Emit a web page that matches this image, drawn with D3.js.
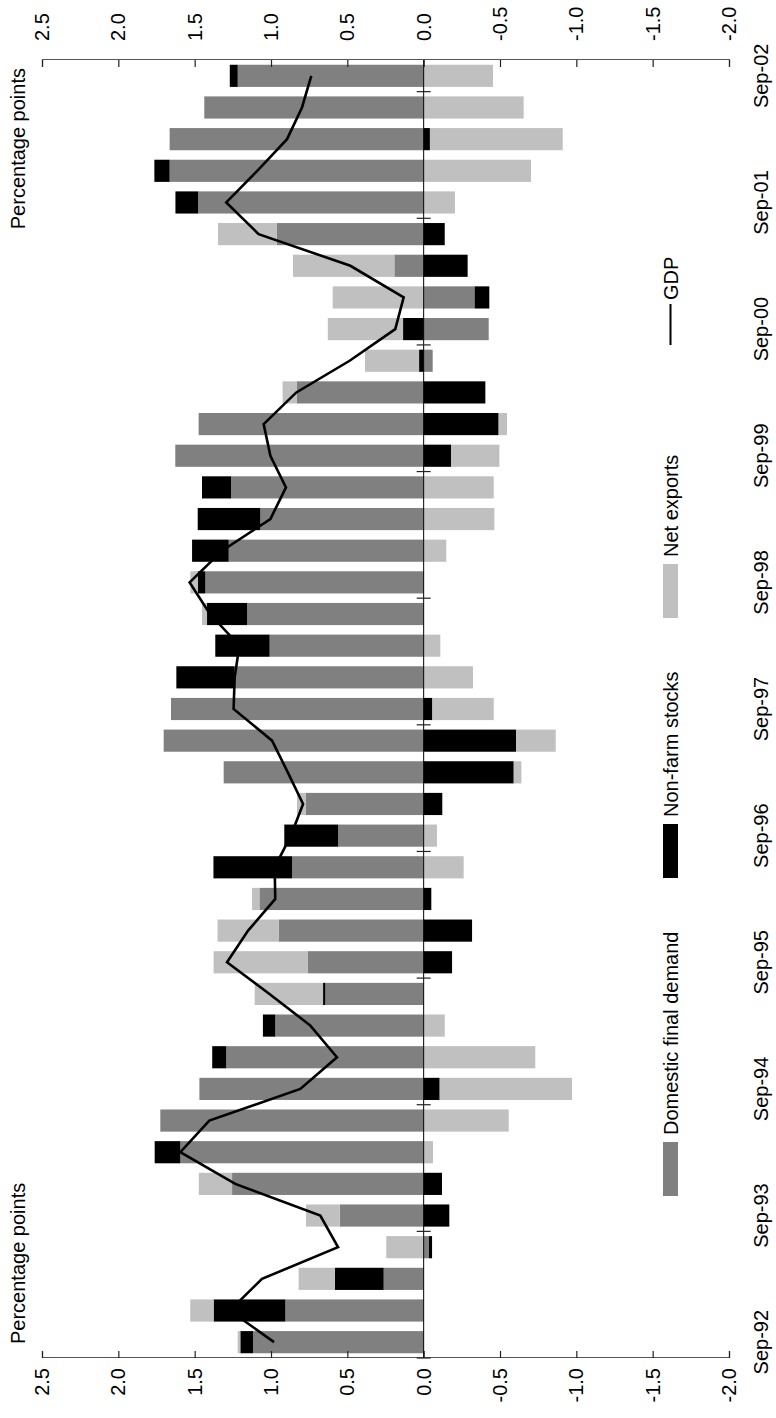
<!DOCTYPE html>
<html><head><meta charset="utf-8">
<script src="https://cdn.jsdelivr.net/npm/d3@7"></script>
<style>body{margin:0;background:#fff}svg{display:block}text{font-family:"Liberation Sans",Arial,sans-serif;fill:#000}</style>
</head><body>
<script>
const categories = ["Sep-92","Dec-92","Mar-93","Jun-93","Sep-93","Dec-93","Mar-94","Jun-94","Sep-94","Dec-94","Mar-95","Jun-95","Sep-95","Dec-95","Mar-96","Jun-96","Sep-96","Dec-96","Mar-97","Jun-97","Sep-97","Dec-97","Mar-98","Jun-98","Sep-98","Dec-98","Mar-99","Jun-99","Sep-99","Dec-99","Mar-00","Jun-00","Sep-00","Dec-00","Mar-01","Jun-01","Sep-01","Dec-01","Mar-02","Jun-02","Sep-02"];
const domesticFinalDemand = [1.118,0.906,0.262,-0.035,0.550,1.255,1.594,1.725,1.469,1.293,0.972,0.644,0.758,0.950,1.076,0.862,0.561,0.771,1.310,1.703,1.655,1.238,1.009,1.157,1.430,1.277,1.070,1.262,1.627,1.474,0.830,-0.059,-0.426,-0.334,0.192,0.961,1.478,1.664,1.664,1.437,1.218];
const nonFarmStocks = [0.083,0.470,0.319,-0.020,-0.168,-0.120,0.168,0,-0.105,0.092,0.081,0.015,-0.186,-0.317,-0.050,0.515,0.352,-0.122,-0.590,-0.605,-0.057,0.382,0.356,0.262,0.050,0.240,0.410,0.190,-0.179,-0.491,-0.404,0.030,0.135,-0.096,-0.288,-0.138,0.148,0.100,-0.041,0,0.052];
const netExports = [0.017,0.153,0.238,0.245,0.221,0.218,-0.061,-0.557,-0.867,-0.731,-0.138,0.448,0.618,0.400,0.048,-0.262,-0.087,0.059,-0.050,-0.260,-0.402,-0.323,-0.109,0.033,0.048,-0.148,-0.463,-0.459,-0.317,-0.055,0.094,0.354,0.493,0.596,0.664,0.386,-0.205,-0.703,-0.870,-0.655,-0.454];
const gdp = [0.98,1.27,1.059,0.561,0.677,1.234,1.594,1.404,0.808,0.568,0.742,1.01,1.288,1.15,0.972,0.976,0.87,0.790,0.89,0.993,1.245,1.238,1.207,1.40,1.533,1.32,1.004,0.902,1.004,1.048,0.834,0.485,0.186,0.131,0.480,1.081,1.293,1.09,0.895,0.797,0.736];
const yTicks = [2.5,2.0,1.5,1.0,0.5,0.0,-0.5,-1.0,-1.5,-2.0];
const seriesNames = ["Domestic final demand","Non-farm stocks","Net exports","GDP"];
const seriesColors = ["#808080","#000000","#c0c0c0","#000000"];
const axisTitle = "Percentage points";

const W = 1418, H = 776;
const svg = d3.select("body").append("svg").attr("width", 776).attr("height", 1418);
svg.append("rect").attr("width", 776).attr("height", 1418).attr("fill", "#fff");
const g = svg.append("g").attr("transform", `rotate(-90) translate(${-W},0)`);

const x = d3.scaleBand().domain(categories).range([60, 1358]).paddingInner(0.3).paddingOuter(0.15);
const y = d3.scaleLinear().domain([-2, 2.5]).range([729, 42]);
const bw = x.bandwidth();
const step = x.step();

const rows = categories.map((c, i) => ({cat: c, dfd: domesticFinalDemand[i], stocks: nonFarmStocks[i], nx: netExports[i]}));
const keys = ["dfd", "stocks", "nx"];
const stacked = d3.stack().keys(keys).offset(d3.stackOffsetDiverging)(rows);

stacked.forEach((s, si) => {
  g.append("g").attr("fill", seriesColors[si]).selectAll("rect").data(s).join("rect")
    .attr("x", d => x(d.data.cat))
    .attr("width", bw)
    .attr("y", d => y(Math.max(d[0], d[1])))
    .attr("height", d => Math.abs(y(d[0]) - y(d[1])));
});

// value axes
const fmt = d => d.toFixed(1);
const leftAxis = g.append("g").attr("transform", "translate(60,0)")
  .call(d3.axisLeft(y).tickValues(yTicks).tickSize(-7).tickPadding(10).tickFormat(fmt));
const rightAxis = g.append("g").attr("transform", "translate(1358,0)")
  .call(d3.axisRight(y).tickValues(yTicks).tickSize(-7).tickPadding(19).tickFormat(fmt));
[leftAxis, rightAxis].forEach(a => {
  a.select(".domain").attr("stroke", "#555").attr("stroke-width", 1.2);
  a.selectAll(".tick line").attr("stroke", "#222").attr("stroke-width", 1.2);
  a.selectAll(".tick text").attr("font-size", 20).attr("font-family", "Liberation Sans, Arial, sans-serif").attr("fill", "#000");
});

// zero (category) axis
const y0 = y(0);
g.append("line").attr("x1", 60).attr("x2", 1358).attr("y1", y0).attr("y2", y0).attr("stroke", "#000").attr("stroke-width", 1);
const sepCats = categories.filter(c => c.startsWith("Sep"));
g.append("g").selectAll("line").data(sepCats).join("line")
  .attr("x1", d => x(d) - (step - bw) / 2).attr("x2", d => x(d) - (step - bw) / 2)
  .attr("y1", y0 - 7).attr("y2", y0 + 7).attr("stroke", "#222").attr("stroke-width", 1.2);
g.append("g").selectAll("text").data(sepCats).join("text")
  .attr("x", d => x(d) + bw / 2).attr("y", 768).attr("text-anchor", "middle").attr("font-size", 20).text(d => d);

// GDP line
const line = d3.line().x((d, i) => x(categories[i]) + bw / 2).y(d => y(d));
g.append("path").datum(gdp).attr("d", line).attr("fill", "none").attr("stroke", "#000").attr("stroke-width", 2.6).attr("stroke-linejoin", "miter");

// titles
g.append("text").attr("x", 74).attr("y", 25).attr("font-size", 20).text(axisTitle);
g.append("text").attr("x", 1350).attr("y", 25).attr("text-anchor", "end").attr("font-size", 20).text(axisTitle);

// legend
const legendItems = [
  {name: seriesNames[0], color: seriesColors[0], x0: 222, type: "rect"},
  {name: seriesNames[1], color: seriesColors[1], x0: 540, type: "rect"},
  {name: seriesNames[2], color: seriesColors[2], x0: 800, type: "rect"},
  {name: seriesNames[3], color: seriesColors[3], x0: 1073, type: "line"}
];
const lg = g.append("g");
legendItems.forEach(it => {
  if (it.type === "rect") {
    lg.append("rect").attr("x", it.x0).attr("y", 663).attr("width", 54).attr("height", 15).attr("fill", it.color);
    lg.append("text").attr("x", it.x0 + 61).attr("y", 678).attr("font-size", 20).text(it.name);
  } else {
    lg.append("line").attr("x1", it.x0).attr("x2", it.x0 + 41).attr("y1", 670.5).attr("y2", 670.5).attr("stroke", it.color).attr("stroke-width", 2);
    lg.append("text").attr("x", it.x0 + 45).attr("y", 678).attr("font-size", 20).text(it.name);
  }
});
</script>
</body></html>
